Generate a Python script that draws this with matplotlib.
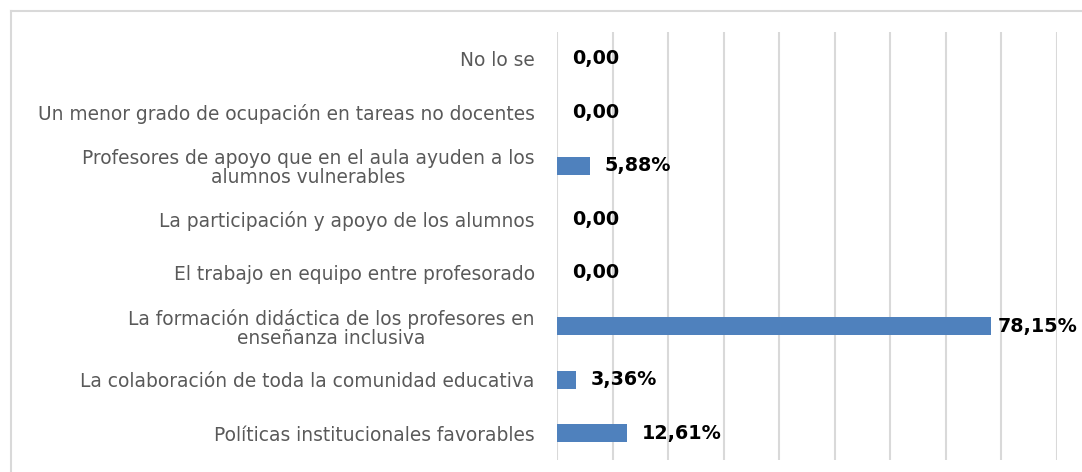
import matplotlib
matplotlib.use("Agg")
import matplotlib.pyplot as plt

categories = [
    "Políticas institucionales favorables",
    "La colaboración de toda la comunidad educativa",
    "La formación didáctica de los profesores en\nenseñanza inclusiva",
    "El trabajo en equipo entre profesorado",
    "La participación y apoyo de los alumnos",
    "Profesores de apoyo que en el aula ayuden a los\nalumnos vulnerables",
    "Un menor grado de ocupación en tareas no docentes",
    "No lo se",
]
values = [12.61, 3.36, 78.15, 0.0, 0.0, 5.88, 0.0, 0.0]
value_labels = ["12,61%", "3,36%", "78,15%", "0,00", "0,00", "5,88%", "0,00", "0,00"]

fig = plt.figure(figsize=(10.82, 4.72), dpi=100)
W, H = 1082, 472
ax = fig.add_axes([557 / W, 1 - 460 / H, (1057 - 557) / W, (460 - 32) / H])

# outer chart border (top and left visible)
fig.add_artist(plt.Line2D([11 / W, 1.0], [1 - 11 / H, 1 - 11 / H], color="#d9d9d9", lw=1.5,
                          transform=fig.transFigure))
fig.add_artist(plt.Line2D([11 / W, 11 / W], [0, 1 - 11 / H], color="#d9d9d9", lw=1.5,
                          transform=fig.transFigure))

y = list(range(len(categories)))
ax.barh(y, values, height=0.33, color="#4f81bd", linewidth=0, zorder=3)
ax.set_xlim(0, 90)
ax.set_ylim(-0.5, len(categories) - 0.5)
ax.set_xticks(range(0, 91, 10))
ax.xaxis.grid(True, color="#d9d9d9", lw=1.5, zorder=0)
ax.tick_params(axis="x", length=0, labelbottom=False)
ax.tick_params(axis="y", length=0, pad=16)
ax.set_yticks(y)
ax.set_yticklabels(categories, fontsize=13.4, color="#595959", family="DejaVu Sans",
                   multialignment="center", linespacing=1.05)
for lbl in ax.get_yticklabels():
    lbl.set_y(lbl.get_position()[1])
for s in ax.spines.values():
    s.set_visible(False)

offsets = [15, 15, 7, 15, 15, 15, 15, 15]
for yi, v, lab, off in zip(y, values, value_labels, offsets):
    ax.annotate(lab, (v, yi), xytext=(off, 0), textcoords="offset pixels",
                va="center", ha="left", fontsize=13.8, fontweight="bold", color="#000000",
                family="DejaVu Sans", annotation_clip=False)

fig.savefig("out.png", dpi=100)
